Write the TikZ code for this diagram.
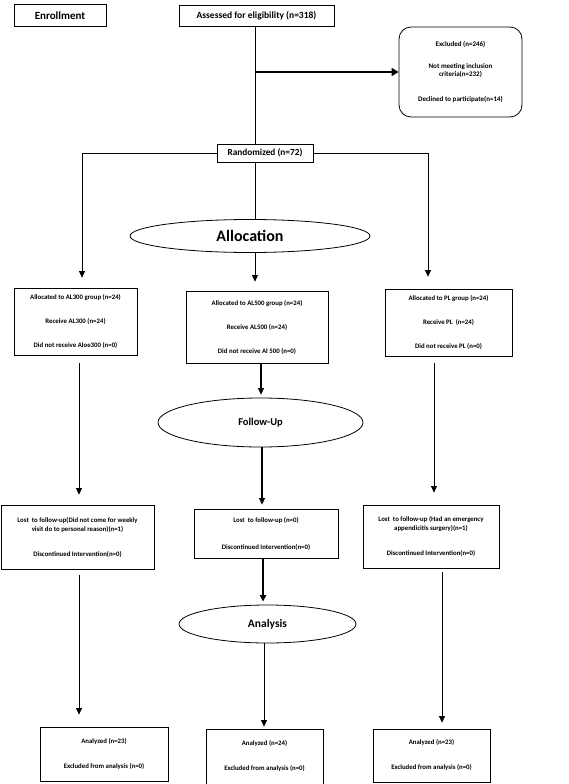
\documentclass[tikz,border=0pt]{standalone}
\usepackage{fontspec}
\setmainfont{Carlito}
\usetikzlibrary{shapes,positioning,arrows,arrows.meta}

\begin{document}
\begin{tikzpicture}[
		node distance = 1.5cm,
		block/.style={
			rectangle,
			draw,
			line width=0.8pt,
			align=center,
			inner sep=1pt,
			font=\bfseries\fontsize{6.8}{9}\selectfont
			},
		stage/.style={
			ellipse,
			draw,
			line width=0.8pt,
			inner sep=0pt,
			font=\bfseries\fontsize{10}{12}\selectfont
			},
		line/.style={
			draw,
			line width=0.8pt,
			-{Triangle[width=6pt,length=6.5pt]}
			}]
	    \useasboundingbox (0,0) rectangle (568pt,-784pt);

	    % Place nodes
	    \node [block, minimum width=155pt, minimum height=21pt, font=\bfseries\fontsize{9.5}{11}\selectfont] at (256.5pt,-15.5pt) (assess) {Assessed for eligibility (n=318)};
	    \node [block, left of=assess, node distance=196.5pt, minimum width=92pt, minimum height=22pt, font=\bfseries\fontsize{11}{13}\selectfont] (enroll) {Enrollment};
	    \node [block, right of=assess, node distance=204pt, yshift=-56.5pt, rounded corners=12pt, minimum width=123pt, minimum height=90pt, font=\bfseries\fontsize{7}{8.5}\selectfont] (excl) {Excluded (n=246)\\[13pt]Not meeting inclusion\\criteria(n=232)\\[16pt]Declined to participate(n=14)};
	    \node [block, below of=assess, node distance=137.5pt, xshift=8.5pt, minimum width=96pt, minimum height=18pt, font=\bfseries\fontsize{9.3}{11}\selectfont] (rand) {Randomized (n=72)};
	    \node [stage, below of=rand, node distance=83pt, xshift=-15pt, minimum width=240pt, minimum height=33pt, font=\bfseries\fontsize{16}{18}\selectfont] (alloc) {Allocation};

	    \node [block, below of=alloc, node distance=91pt, xshift=7pt, minimum width=142pt, minimum height=72pt] (al500) {Allocated to AL500 group (n=24)\\[15pt]Receive AL500 (n=24)\\[15pt]Did not receive Al 500 (n=0)};
	    \node [block, left of=al500, node distance=181.5pt, yshift=5.5pt, minimum width=123pt, minimum height=67pt] (al300) {Allocated to AL300 group (n=24)\\[15pt]Receive AL300 (n=24)\\[15pt]Did not receive Aloe300 (n=0)};
	    \node [block, right of=al500, node distance=191.5pt, yshift=4.5pt, minimum width=127pt, minimum height=67pt] (pl) {Allocated to PL group (n=24)\\[15pt]Receive PL\ \ (n=24)\\[15pt]Did not receive PL (n=0)};
	    \node [stage, below of=al500, node distance=95.5pt, xshift=3.5pt, minimum width=205pt, minimum height=49pt, font=\bfseries\fontsize{10.5}{12}\selectfont] (follow) {Follow-Up};

	    \node [block, below of=follow, node distance=111pt, xshift=5.5pt, minimum width=144pt, minimum height=49pt] (lost500) {Lost\ \ to follow-up (n=0)\\[18pt]Discontinued Intervention(n=0)};
	    \node [block, left of=lost500, node distance=188.5pt, yshift=-3.5pt, minimum width=153pt, minimum height=64pt] (lost300) {Lost\ \ to follow-up(Did not come for weekly\\visit do to personal reason)(n=1)\\[16pt]Discontinued Intervention(n=0)};
	    \node [block, right of=lost500, node distance=165pt, yshift=-3pt, minimum width=136pt, minimum height=63pt] (lostpl) {Lost\ \ to follow-up (Had an emergency\\appendicitis surgery)(n=1)\\[16pt]Discontinued Intervention(n=0)};
	    \node [stage, below of=lost500, node distance=90.5pt, xshift=1.5pt, minimum width=177pt, minimum height=38pt, font=\bfseries\fontsize{11.5}{13}\selectfont] (analysis) {Analysis};

	    \node [block, below of=analysis, node distance=132.5pt, xshift=-3pt, minimum width=117pt, minimum height=55pt] (an500) {Analyzed (n=24)\\[16pt]Excluded from analysis (n=0)};
	    \node [block, left of=an500, node distance=160.5pt, yshift=2.5pt, minimum width=128pt, minimum height=54pt] (an300) {Analyzed (n=23)\\[16pt]Excluded from analysis (n=0)};
	    \node [block, right of=an500, node distance=167pt, yshift=1pt, minimum width=117pt, minimum height=53pt] (anpl) {Analyzed (n=23)\\[16pt]Excluded from analysis (n=0)};

	    % Draw edges
	    \draw [line width=0.8pt] ([xshift=-1.5pt]assess.south) -- ([xshift=-1.5pt]assess.south |- rand.north);
	    \path [line, line width=1.6pt, -{Triangle[width=8pt,length=7pt]}] ([xshift=-1.5pt]assess.south |- excl.west) -- (excl.west);
	    \path [line] (rand.west) -| ([xshift=6.5pt, yshift=10pt]al300.north);
	    \path [line] (rand.east) -| ([xshift=-20.5pt, yshift=12pt]pl.north);
	    \draw [line width=0.8pt] ([xshift=-1.5pt]assess.south |- rand.south) -- ([xshift=-1.5pt]assess.south |- alloc.north);
	    \path [line, shorten >=9pt] ([xshift=-1.5pt]assess.south |- alloc.south) -- ([xshift=-1.5pt]assess.south |- al500.north);
	    \path [line, line width=1.2pt, shorten >=3pt] ([xshift=4pt]al500.south) -- ([xshift=4pt]al500.south |- follow.north);
	    \path [line, line width=1.2pt, shorten >=4pt] ([xshift=1.5pt]follow.south) -- ([xshift=1.5pt]follow.south |- lost500.north);
	    \path [line, line width=1.4pt, shorten >=3pt] ([xshift=-3pt]lost500.south) -- ([xshift=-3pt]lost500.south |- analysis.north);
	    \path [line, shorten >=2pt] ([xshift=-3.5pt]analysis.south) -- ([xshift=-3.5pt]analysis.south |- an500.north);
	    \path [line, shorten <=8pt, shorten >=10pt] ([xshift=3.5pt]al300.south) -- ([xshift=1.5pt]lost300.north);
	    \path [line, shorten <=7pt, shorten >=12pt] ([xshift=-14.5pt]pl.south) -- ([xshift=3pt]lostpl.north);
	    \path [line, shorten <=6pt, shorten >=12pt] ([xshift=1.5pt]lost300.south) -- ([xshift=-25pt]an300.north);
	    \path [line, shorten <=4pt, shorten >=6pt] ([xshift=11pt]lostpl.south) -- ([xshift=10.5pt]anpl.north);
	\end{tikzpicture}
\end{document}
